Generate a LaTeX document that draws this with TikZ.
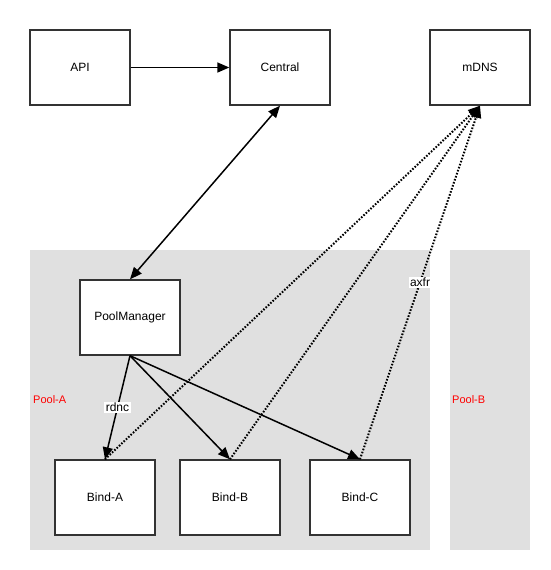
\documentclass[tikz,border=0pt]{standalone}
\usepackage{fontspec}
\setmainfont{Liberation Sans}
\usetikzlibrary{arrows.meta}
\begin{document}
\begin{tikzpicture}[x=1pt,y=-1pt,
  box/.style={draw=black!80,line width=1.4pt,fill=white,minimum width=100pt,minimum height=75pt,inner sep=0pt,font=\fontsize{12}{14}\selectfont},
  pool/.style={fill=black!12,draw=none,inner sep=0pt},
  poollabel/.style={text=red,font=\fontsize{11}{13}\selectfont,anchor=west,inner sep=0pt},
  tip/.style={Triangle[length=12pt,width=10pt]},
  conn/.style={line width=1.5pt,-{Triangle[length=12pt,width=10pt]}},
  dconn/.style={conn,dash pattern=on 1.6pt off 1.6pt,line width=2pt},
  lbl/.style={fill=white,inner sep=1.5pt,font=\fontsize{12}{14}\selectfont}]
\useasboundingbox (0,0) rectangle (551,570);
\node[pool,minimum width=400pt,minimum height=300pt] (poola) at (230,400) {};
\node[pool,minimum width=80pt,minimum height=300pt] (poolb) at (490,400) {};
\node[poollabel] (pla) at (33,400) {Pool-A};
\node[poollabel] (plb) at (452,400) {Pool-B};
\node[box] (api) at (80,67.5) {API};
\node[box] (central) at (280,67.5) {Central};
\node[box] (mdns) at (480,67.5) {mDNS};
\node[box] (pm) at (130,317.5) {PoolManager};
\node[box] (ba) at (105,497.5) {Bind-A};
\node[box] (bb) at (230,497.5) {Bind-B};
\node[box] (bc) at (360,497.5) {Bind-C};
\draw[conn] (api.east) -- (central.west);
\draw[conn,{Triangle[length=12pt,width=10pt]}-{Triangle[length=12pt,width=10pt]}] (central.south) -- (pm.north);
\draw[conn] (pm.south) -- node[lbl] {rdnc} (ba.north);
\draw[conn] (pm.south) -- (bb.north);
\draw[conn] (pm.south) -- (bc.north);
\draw[dconn] (ba.north) -- (mdns.south);
\draw[dconn] (bb.north) -- (mdns.south);
\draw[dconn] (bc.north) -- node[lbl] {axfr} (mdns.south);
\end{tikzpicture}
\end{document}
